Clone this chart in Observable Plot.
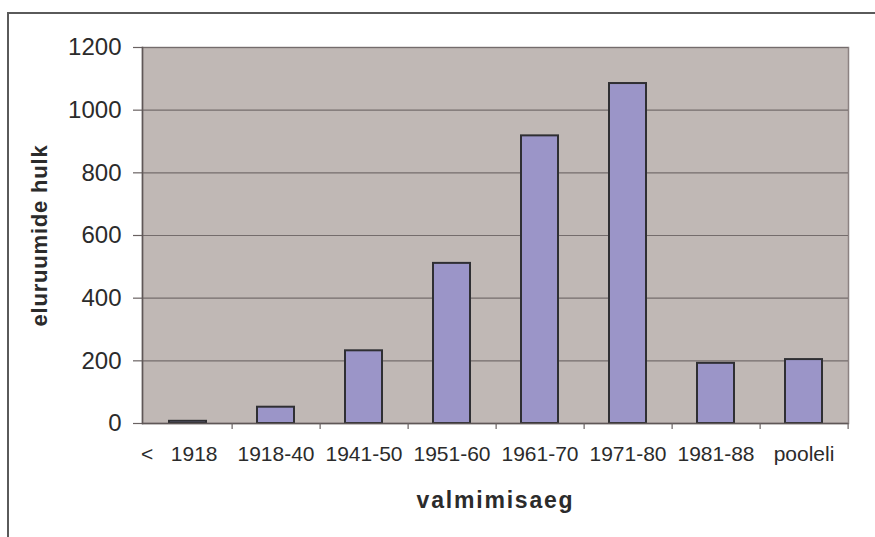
<!DOCTYPE html>
<html>
<head>
<meta charset="utf-8">
<script src="https://cdn.jsdelivr.net/npm/d3@7"></script>
<script src="https://cdn.jsdelivr.net/npm/@observablehq/plot@0.6"></script>
<style>
  html, body { margin: 0; padding: 0; background: #ffffff; }
  #wrap { position: relative; width: 875px; height: 537px; overflow: hidden; }
  #border { position: absolute; left: 7px; top: 12px; width: 900px; height: 600px;
            border-top: 2px solid #5a5a5a; border-left: 2px solid #5a5a5a; }
  #chart { position: absolute; left: 0; top: 0; }
</style>
</head>
<body>
<div id="wrap"><div id="border"></div><div id="chart"></div></div>
<script>
const categories = ["<1918", "1918-40", "1941-50", "1951-60", "1961-70", "1971-80", "1981-88", "pooleli"];
const values = [7, 52, 232, 511, 918, 1085, 192, 204];
const tickLabels = ["<\u00a0\u00a0\u00a01918\u00a0\u00a0\u00a0", "1918-40", "1941-50", "1951-60", "1961-70", "1971-80", "1981-88", "pooleli"];
const yTicks = [0, 200, 400, 600, 800, 1000, 1200];
const xTitle = "valmimisaeg";
const yTitle = "eluruumide hulk";

const data = categories.map((c, i) => ({cat: c, value: values[i]}));
const labelOf = new Map(categories.map((c, i) => [c, tickLabels[i]]));

const W = 875, H = 537, ML = 142, MR = 27, MT = 47, MB = 114;
const step = (W - ML - MR) / categories.length;

const chart = Plot.plot({
  width: W, height: H,
  marginLeft: ML, marginRight: MR, marginTop: MT, marginBottom: MB,
  style: {fontFamily: "'Liberation Sans', Arial, sans-serif", background: "transparent", color: "#2b2b2b"},
  x: {domain: categories, paddingInner: 0.58, paddingOuter: 0.29, axis: null},
  y: {domain: [0, 1200], axis: null},
  marks: [
    Plot.frame({fill: "#C0B8B5", stroke: "#8c8282", strokeWidth: 1.5}),
    Plot.gridY(yTicks, {stroke: "#746c6c", strokeOpacity: 1, strokeWidth: 1.2}),
    Plot.barY(data, {x: "cat", y: "value", fill: "#9B95C8", stroke: "#2f2f33", strokeWidth: 2}),
    Plot.ruleY([0], {stroke: "#5f5757", strokeWidth: 1.5}),
    Plot.axisY(yTicks, {tickSize: 9, tickPadding: 12, fontSize: 24, tickFormat: d => String(d), label: null, stroke: "#6a6262", strokeWidth: 1.2}),
    Plot.frame({anchor: "left", stroke: "#5f5757", strokeWidth: 1.5}),
    Plot.axisX({tickSize: 6, dx: step / 2, tickFormat: () => "", label: null, stroke: "#6a6262", strokeWidth: 1.2}),
    Plot.axisX({tickSize: 0, tickPadding: 23, fontSize: 21, tickFormat: d => labelOf.get(d), label: null}),
    Plot.text([yTitle], {frameAnchor: "left", dx: -103, rotate: -90, fontSize: 22, fontWeight: "bold",
      lineAnchor: "middle", textAnchor: "middle", fill: "#2b2b2b"}),
    Plot.text([xTitle], {frameAnchor: "bottom", dy: 77, fontSize: 23, fontWeight: "bold",
      lineAnchor: "middle", textAnchor: "middle", fill: "#2b2b2b"})
  ]
});
chart.querySelectorAll("text").forEach(t => {
  if (t.textContent === xTitle) t.setAttribute("letter-spacing", "1.8px");
  if (t.textContent === yTitle) t.setAttribute("letter-spacing", "0.8px");
});
document.getElementById("chart").appendChild(chart);
</script>
</body>
</html>
